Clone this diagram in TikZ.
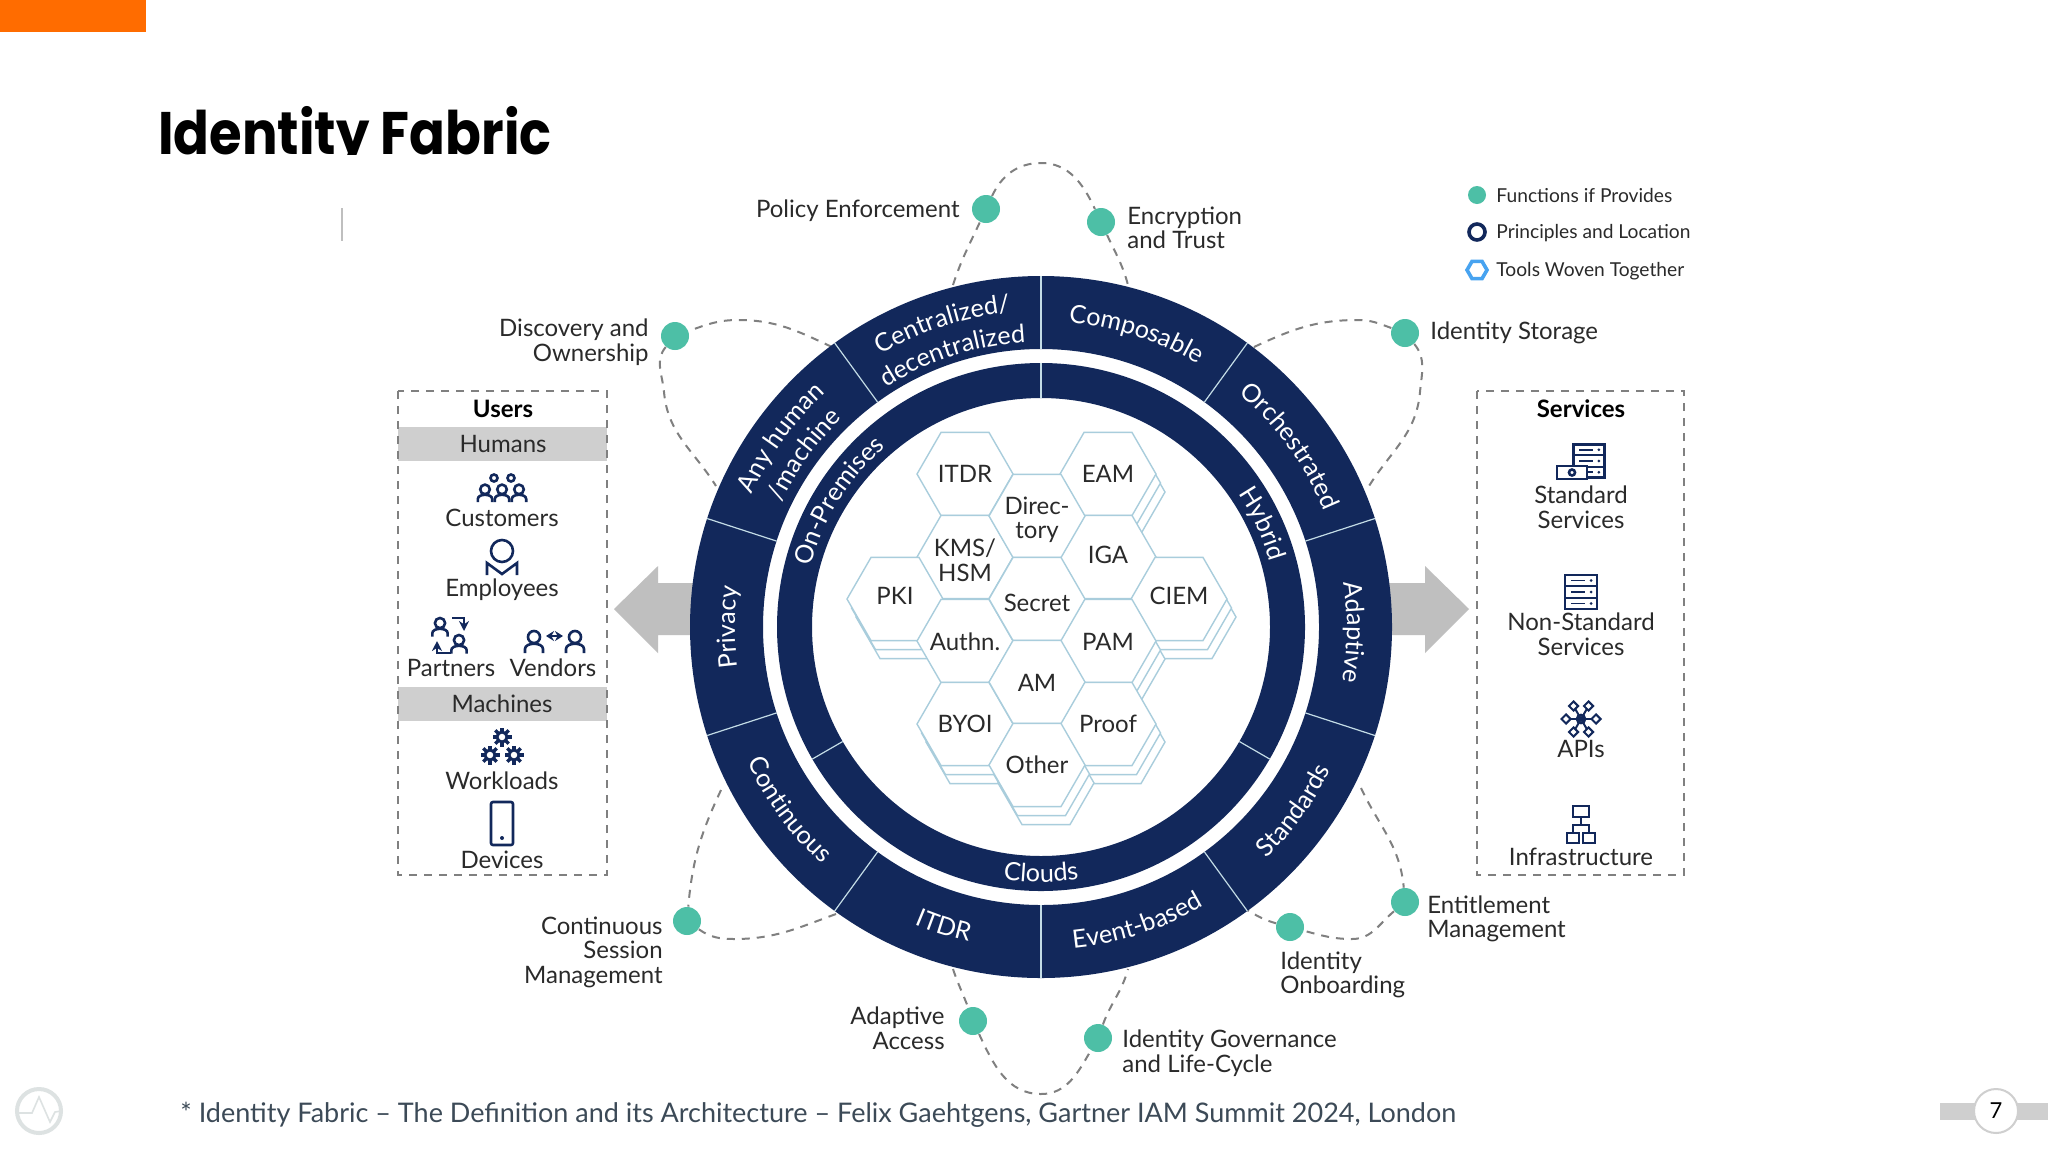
\documentclass[tikz,border=0pt]{standalone}
\usepackage{fontspec}
\usepackage{tikz}
\usetikzlibrary{shapes.geometric,decorations.text,arrows.meta}
\setmainfont{Lato}
\newfontfamily\headfont[FakeStretch=0.88]{Poppins}
\definecolor{fabricnavy}{HTML}{12285B}
\definecolor{fabricgreen}{HTML}{4DBFA6}
\definecolor{hexline}{HTML}{A9CDDC}
\definecolor{bandgray}{HTML}{CFCFCF}
\definecolor{arrowgray}{HTML}{BFBFBF}
\definecolor{petalgray}{HTML}{808080}
\definecolor{fabrictext}{HTML}{2A2A2A}
\definecolor{footertext}{HTML}{3C4A57}
\definecolor{logogray}{HTML}{DDE2E2}
\newcommand{\ringfont}{\color{white}\fontsize{12.6}{13}\selectfont}
\newcommand{\ringcw}[3]{\path[decorate,decoration={text along path,text={|\ringfont|#3},text align=center}] ({#1+50}:#2) arc[start angle=#1+50,end angle=#1-50,radius=#2];}
\newcommand{\ringccw}[3]{\path[decorate,decoration={text along path,text={|\ringfont|#3},text align=center}] ({#1-50}:#2) arc[start angle=#1-50,end angle=#1+50,radius=#2];}
\tikzset{
  difftext/.style={text=fabrictext,font=\fontsize{12}{12.25}\selectfont,inner sep=0pt},
  headtext/.style={difftext,font=\bfseries\fontsize{12}{12}\selectfont,text=black},
  legendtext/.style={difftext,font=\fontsize{9.6}{10}\selectfont,anchor=west},
  hexcell/.style={regular polygon,regular polygon sides=6,draw=hexline,fill=white,line width=0.7pt,minimum size=48pt,inner sep=0pt},
  hextext/.style={difftext,align=center,font=\fontsize{12}{12.25}\selectfont},
  fundot/.style={circle,fill=fabricgreen,minimum size=14pt,inner sep=0pt},
  petal/.style={petalgray,line width=1pt,dash pattern=on 4pt off 3.5pt},
  panelbox/.style={petalgray,line width=0.8pt,dash pattern=on 4pt off 3.5pt},
  ringline/.style={color=hexline!70!white,line width=0.6pt},
  icon/.style={fabricnavy,line width=1.3pt},
  person/.pic={
    \draw[icon] (0,7) circle [radius=6];
    \draw[icon] (-9,-9) -- (-9,-5) .. controls (-9,2) and (9,2) .. (9,-5) -- (9,-9);
  },
  gear/.pic={
    \foreach \a in {0,45,...,315} \draw[fabricnavy,line width=1.7pt] (\a:4) -- (\a:9.5);
    \draw[fabricnavy,fill=white,line width=1.5pt] (0,0) circle [radius=5];
  },
  server/.pic={
    \draw[icon,fill=white] (-16,-17) rectangle (16,17);
    \draw[icon] (-16,-6) -- (16,-6) (-16,6) -- (16,6);
    \foreach \y in {-11.5,0,11.5} {
      \draw[fabricnavy,line width=0.8pt] (-10,\y) -- (4,\y);
      \fill[fabricnavy] (10,\y) circle [radius=1.5];
    }
  }
}
\begin{document}
\begin{tikzpicture}[x=0.5pt,y=0.5pt]
\useasboundingbox (0,0) rectangle (2048,-1152);
\fill[white] (0,0) rectangle (2048,-1152);
\fill[orange!85!red] (0,0) rectangle (146,-32);

% title and footer
\node[anchor=base west,inner sep=0pt,font=\headfont\bfseries\fontsize{30}{30}\selectfont,text=black] (title) at (158,-154) {Identity Fabric};
\fill[white] (150,-155) rectangle (570,-180);
\draw[arrowgray,line width=0.6pt] (342,-208) -- (342,-241);
\node[anchor=base west,inner sep=0pt,text=footertext,font=\fontsize{13.5}{14}\selectfont] (footer) at (180,-1122) {* Identity Fabric -- The Definition and its Architecture -- Felix Gaehtgens, Gartner IAM Summit 2024, London};

\draw[logogray,line width=2pt] (39,-1111) circle [radius=22];
\draw[logogray,line width=0.8pt] (17,-1113) -- (32,-1113) -- (39,-1097) -- (50,-1122) -- (55,-1112) -- (61,-1111);
\fill[bandgray] (1940,-1103) rectangle (2048,-1120);
\node[circle,draw=bandgray,fill=white,line width=1pt,minimum size=22pt,inner sep=0pt,font=\fontsize{11}{11}\selectfont] (pagenum) at (1996,-1111) {7};

% gray arrows
\fill[arrowgray] (720,-583) -- (658,-583) -- (658,-566) -- (614,-609) -- (658,-653) -- (658,-635) -- (720,-635) -- cycle;
\fill[arrowgray] (1360,-583) -- (1425,-583) -- (1425,-566) -- (1469,-609) -- (1425,-653) -- (1425,-635) -- (1360,-635) -- cycle;

% function dots
\node[fundot] (policydot) at (986,-209) {};
\node[fundot] (encryptdot) at (1101,-222) {};
\node[fundot] (discoverdot) at (675,-336) {};
\node[fundot] (storagedot) at (1405,-333) {};
\node[fundot] (sessiondot) at (687,-921) {};
\node[fundot] (adaptivedot) at (973,-1021) {};
\node[fundot] (governdot) at (1098,-1038) {};
\node[fundot] (onboarddot) at (1290,-927) {};
\node[fundot] (entitledot) at (1405,-902) {};

\coordinate (topa) at (953,-285);
\coordinate (toppeak) at (1041,-163);
\coordinate (topb) at (1128,-285);
\coordinate (righta) at (1254,-347);
\coordinate (rightpeak) at (1358,-320);
\coordinate (rightside) at (1420,-392);
\coordinate (rightb) at (1369,-486);
\coordinate (lefta) at (832,-347);
\coordinate (leftpeak) at (738,-320);
\coordinate (leftside) at (664,-392);
\coordinate (leftb) at (716,-486);
\coordinate (lowla) at (721,-790);
\coordinate (lowlpeak) at (734,-939);
\coordinate (lowlb) at (836,-914);
\coordinate (lowra) at (1361,-788);
\coordinate (lowrpeak) at (1352,-939);
\coordinate (lowrb) at (1247,-910);
\coordinate (bota) at (953,-969);
\coordinate (botpeak) at (1041,-1094);
\coordinate (botb) at (1128,-969);

% petals
\draw[petal] (topa) to[out=72,in=245] (policydot);
\draw[petal] (policydot) to[out=65,in=180] (toppeak) to[out=0,in=115] (encryptdot);
\draw[petal] (encryptdot) to[out=-65,in=105] (topb);
\draw[petal] (righta) to[out=25,in=180] (rightpeak) to[out=0,in=160] (storagedot);
\draw[petal] (storagedot) to[out=-50,in=85] (rightside) to[out=-95,in=58] (rightb);
\draw[petal] (lefta) to[out=155,in=0] (leftpeak) to[out=180,in=20] (discoverdot);
\draw[petal] (discoverdot) to[out=230,in=95] (leftside) to[out=-85,in=122] (leftb);
\draw[petal] (lowla) to[out=-115,in=85] (sessiondot);
\draw[petal] (sessiondot) to[out=-35,in=180] (lowlpeak) to[out=0,in=200] (lowlb);
\draw[petal] (lowra) to[out=-65,in=95] (entitledot);
\draw[petal] (entitledot) to[out=-140,in=0] (lowrpeak) to[out=180,in=-15] (onboarddot);
\draw[petal] (onboarddot) to[out=165,in=-30] (lowrb);
\draw[petal] (bota) to[out=-72,in=110] (adaptivedot);
\draw[petal] (adaptivedot) to[out=-65,in=180] (botpeak) to[out=0,in=-120] (governdot);
\draw[petal] (governdot) to[out=70,in=-105] (botb);

% wheel
\begin{scope}[shift={(1041,-627)}]
\fill[fabricnavy,even odd rule] (0,0) circle [radius=351] (0,0) circle [radius=278];
\fill[fabricnavy,even odd rule] (0,0) circle [radius=264] (0,0) circle [radius=229];
\foreach \a in {18,54,...,342} \draw[ringline] (\a:278) -- (\a:351);
\foreach \a in {90,210,330} \draw[ringline] (\a:229) -- (\a:264);

\ringcw{108}{316}{Centralized/}
\ringcw{108}{285}{decentralized}
\ringcw{72}{306}{Composable}
\ringcw{36}{306}{Orchestrated}
\ringcw{-1}{306}{Adaptive}
\ringccw{-36}{323}{Standards}
\ringccw{-72}{323}{Event-based}
\ringccw{-108}{323}{ITDR}
\ringccw{-144}{323}{Continuous}
\ringcw{180}{306}{Privacy}
\ringcw{144}{318}{Any human}
\ringcw{144}{288}{/machine}
\ringcw{148}{238}{On-Premises}
\ringcw{25}{238}{Hybrid}
\ringccw{-90}{255}{Clouds}
\end{scope}

% hex stacks
\foreach \n/\x/\y in {eam/1108/-474,pki/895/-599,ciem/1179/-599,pam/1108/-641,byoi/965/-724,proof/1108/-724,other/1037/-765} {
  \node[hexcell] (\n back) at (\x+9,\y-18) {};
  \node[hexcell] (\n mid) at (\x+4.5,\y-9) {};
}
\foreach \n/\x/\y in {itdr/965/-474,eam/1108/-474,kms/965/-557,iga/1108/-557,pki/895/-599,ciem/1179/-599,authn/965/-641,pam/1108/-641,byoi/965/-724,proof/1108/-724,directory/1037/-516,secret/1037/-599,am/1037/-682,other/1037/-765} {
  \node[hexcell] (\n) at (\x,\y) {};
}
\foreach \n/\x/\y/\t in {itdr/965/-474/ITDR,eam/1108/-474/EAM,kms/965/-560/{KMS/\\HSM},iga/1108/-555/IGA,pki/895/-596/PKI,ciem/1179/-596/CIEM,authn/965/-642/Authn.,pam/1108/-642/PAM,byoi/965/-724/BYOI,proof/1108/-724/Proof,directory/1037/-520/{Direc-\\tory},secret/1037/-603/Secret,am/1037/-683/AM,other/1037/-765/Other} {
  \node[hextext] (\n text) at (\x,\y) {\t};
}

% dot labels
\node[difftext,anchor=east] (policytext) at (960,-211) {Policy Enforcement};
\node[difftext,anchor=west,align=left] (encrypttext) at (1127,-228) {Encryption\\and Trust};
\node[difftext,anchor=east,align=right] (discovertext) at (649,-342) {Discovery and\\Ownership};
\node[difftext,anchor=west] (storagetext) at (1430,-333) {Identity Storage};
\node[difftext,anchor=east,align=right] (sessiontext) at (663,-952) {Continuous\\Session\\Management};
\node[difftext,anchor=east,align=right] (adaptivetext) at (945,-1028) {Adaptive\\Access};
\node[difftext,anchor=west,align=left] (governtext) at (1122,-1053) {Identity Governance\\and Life-Cycle};
\node[difftext,anchor=west,align=left] (onboardtext) at (1280,-975) {Identity\\Onboarding};
\node[difftext,anchor=west,align=left] (entitletext) at (1427,-919) {Entitlement\\Management};

% legend
\node[circle,fill=fabricgreen,minimum size=9pt,inner sep=0pt] (legendgreen) at (1477,-195) {};
\node[circle,draw=fabricnavy,line width=1.8pt,minimum size=8pt,inner sep=0pt] (legendnavy) at (1477,-232) {};
\node[regular polygon,regular polygon sides=6,draw=hexline!60!blue!70!cyan,line width=1.8pt,minimum size=10pt,inner sep=0pt] (legendhex) at (1477,-270) {};
\node[legendtext] (legendone) at (1496,-195) {Functions if Provides};
\node[legendtext] (legendtwo) at (1496,-233) {Principles and Location};
\node[legendtext] (legendthree) at (1496,-271) {Tools Woven Together};

% users panel
\fill[bandgray] (398,-427) rectangle (607,-461);
\fill[bandgray] (398,-687) rectangle (607,-721);
\draw[panelbox] (398,-391) rectangle (607,-875);
\node[headtext] (users) at (503,-409) {Users};
\node[difftext] (humans) at (503,-444) {Humans};
\node[difftext] (customers) at (502,-518) {Customers};
\node[difftext] (employees) at (502,-590) {Employees};
\node[difftext] (partners) at (451,-668) {Partners};
\node[difftext] (vendors) at (553,-668) {Vendors};
\node[difftext] (machines) at (502,-704) {Machines};
\node[difftext] (workloads) at (502,-781) {Workloads};
\node[difftext] (devices) at (502,-860) {Devices};

\foreach \x in {494,511} \draw[icon] (\x,-478) circle [radius=3.5];
\foreach \x in {485,502,519} \pic[scale=0.8] at (\x,-495) {person};
\draw[icon] (502,-551) circle [radius=11];
\draw[icon] (487,-575) -- (487,-563) -- (502,-574) -- (517,-563) -- (517,-575);
\pic[scale=0.85] at (440,-629) {person};
\pic[scale=0.85] at (459,-646) {person};
\draw[icon,-{Stealth[length=5pt,width=5pt]}] (452,-618) -- (464,-618) -- (464,-631);
\draw[icon,-{Stealth[length=5pt,width=5pt]}] (451,-653) -- (437,-653) -- (437,-641);
\pic at (534,-644) {person};
\pic at (575,-644) {person};
\draw[fabricnavy,line width=1pt,{Stealth[length=4pt,width=5pt]}-{Stealth[length=4pt,width=5pt]}] (546,-636) -- (563,-636);
\pic at (502,-737) {gear};
\pic at (490,-755) {gear};
\pic at (514,-755) {gear};
\draw[icon,rounded corners=1pt] (491,-802) rectangle (513,-845);
\fill[fabricnavy] (502,-838) circle [radius=2];

% services panel
\draw[panelbox] (1477,-391) rectangle (1684,-875);
\node[headtext] (services) at (1581,-409) {Services};
\node[difftext,align=center] (standard) at (1581,-507) {Standard\\Services};
\node[difftext,align=center] (nonstandard) at (1581,-634) {Non-Standard\\Services};
\node[difftext] (apis) at (1581,-749) {APIs};
\node[difftext] (infra) at (1581,-857) {Infrastructure};

\pic[scale=0.98] at (1589,-461) {server};
\draw[icon,fill=white] (1557,-466) rectangle (1587,-479);
\draw[icon] (1572,-472.5) circle [radius=3];
\pic at (1581,-592) {server};
\draw[icon] (1581,-719) circle [radius=4];
\foreach \a in {0,60,...,300} {
  \draw[fabricnavy,line width=1pt] (1581,-719) -- ++(\a:13);
  \node[diamond,fill=white,draw=fabricnavy,line width=1pt,minimum size=5pt,inner sep=0pt] (api\a) at ([shift={(\a:15)}]1581,-719) {};
}
\draw[icon] (1573,-806) rectangle (1589,-817);
\draw[icon] (1567,-833) rectangle (1579,-843);
\draw[icon] (1583,-833) rectangle (1595,-843);
\draw[icon] (1581,-817) -- (1581,-825) (1573,-833) -- (1573,-825) -- (1589,-825) -- (1589,-833);
\end{tikzpicture}
\end{document}
